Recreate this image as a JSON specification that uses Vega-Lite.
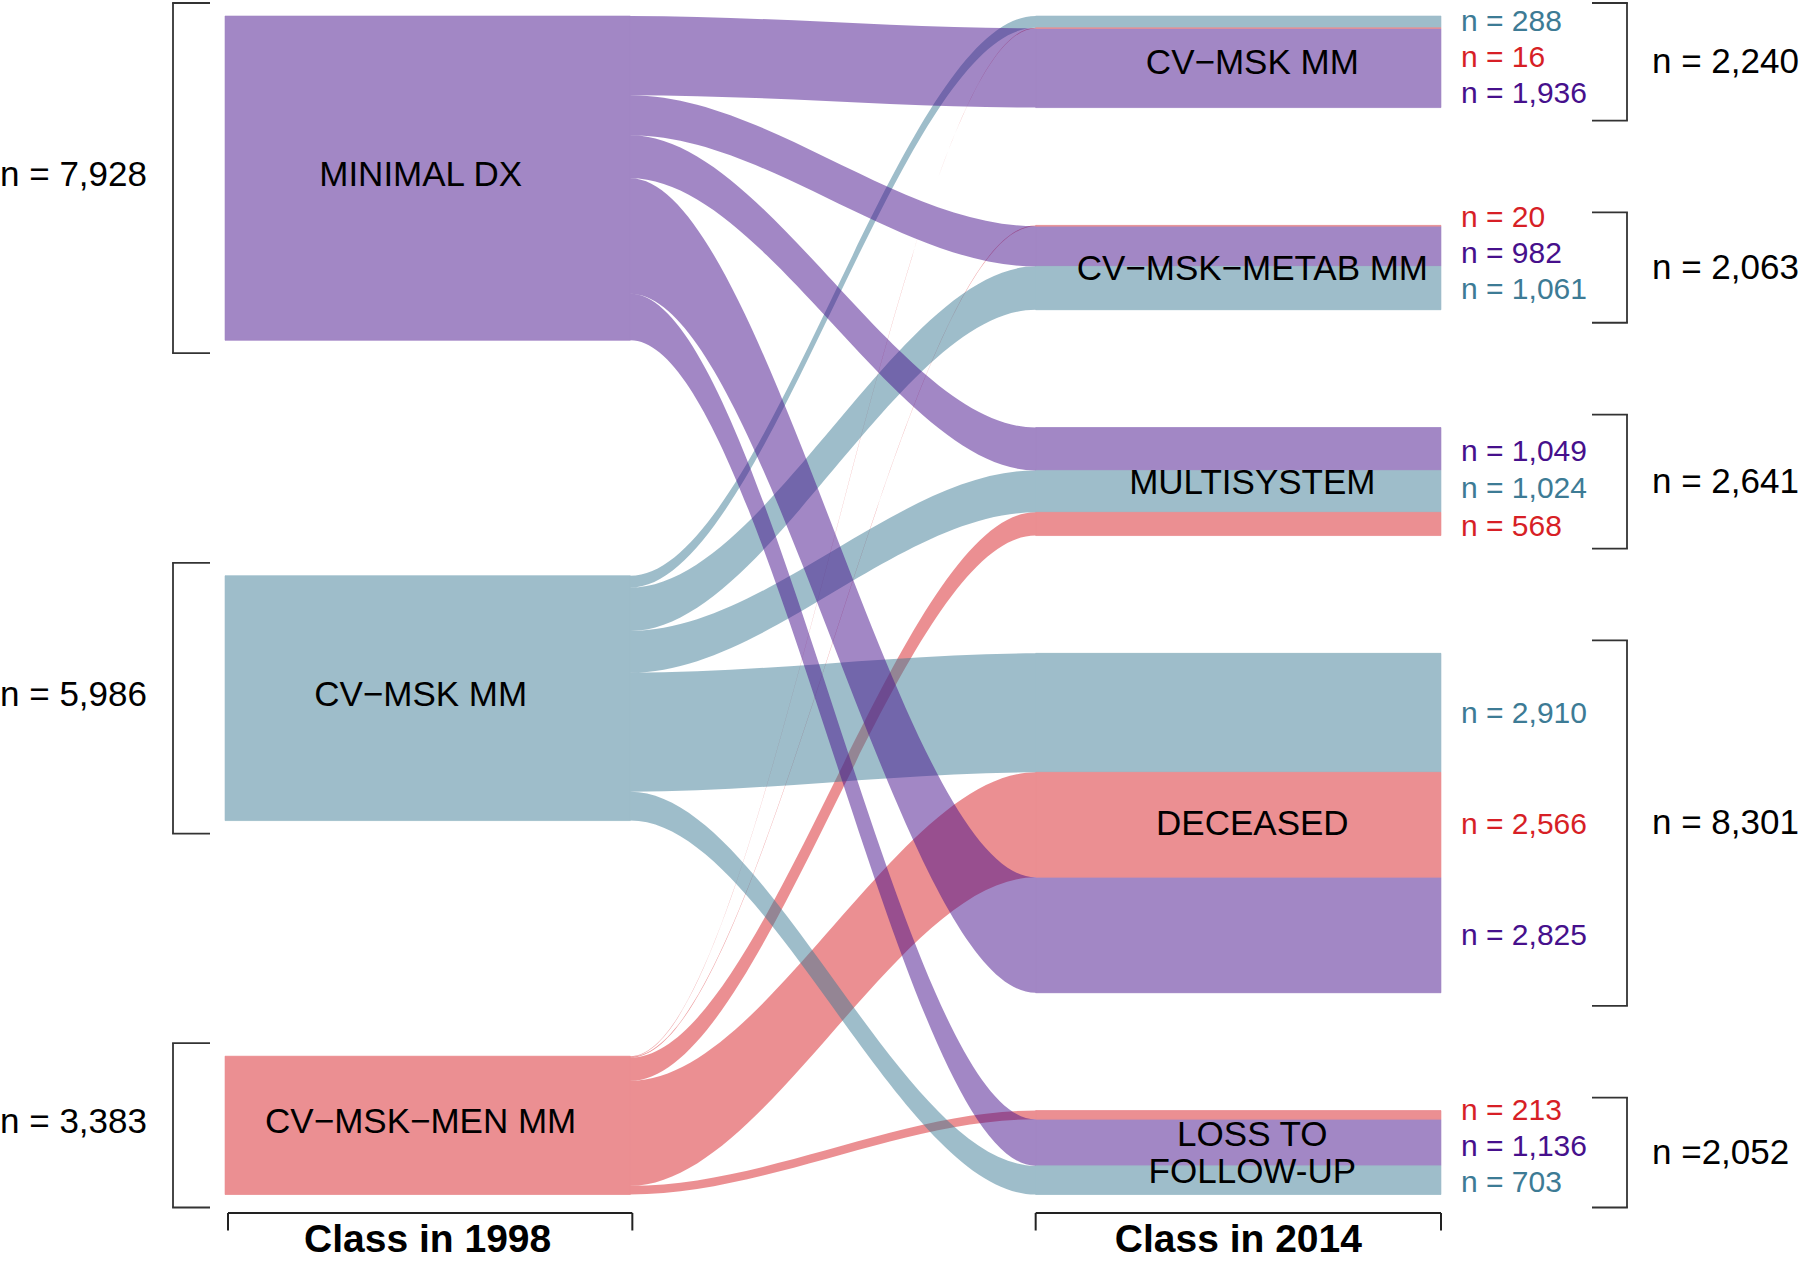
{
  "$schema": "https://vega.github.io/schema/vega-lite/v6.json",
  "width": 1216,
  "height": 1178.5,
  "autosize": {"type": "none"},
  "padding": {"left": 225, "right": 359, "top": 16, "bottom": 67.5},
  "background": "white",
  "config": {"view": {"stroke": null}, "font": "Liberation Sans", "text": {"font": "Liberation Sans"}},
  "datasets": {
    "flows": [
      {"class_1998": "MINIMAL DX", "class_2014": "CV−MSK MM", "n": 1936},
      {"class_1998": "MINIMAL DX", "class_2014": "CV−MSK−METAB MM", "n": 982},
      {"class_1998": "MINIMAL DX", "class_2014": "MULTISYSTEM", "n": 1049},
      {"class_1998": "MINIMAL DX", "class_2014": "DECEASED", "n": 2825},
      {"class_1998": "MINIMAL DX", "class_2014": "LOSS TO\nFOLLOW-UP", "n": 1136},
      {"class_1998": "CV−MSK MM", "class_2014": "CV−MSK MM", "n": 288},
      {"class_1998": "CV−MSK MM", "class_2014": "CV−MSK−METAB MM", "n": 1061},
      {"class_1998": "CV−MSK MM", "class_2014": "MULTISYSTEM", "n": 1024},
      {"class_1998": "CV−MSK MM", "class_2014": "DECEASED", "n": 2910},
      {"class_1998": "CV−MSK MM", "class_2014": "LOSS TO\nFOLLOW-UP", "n": 703},
      {"class_1998": "CV−MSK−MEN MM", "class_2014": "CV−MSK MM", "n": 16},
      {"class_1998": "CV−MSK−MEN MM", "class_2014": "CV−MSK−METAB MM", "n": 20},
      {"class_1998": "CV−MSK−MEN MM", "class_2014": "MULTISYSTEM", "n": 568},
      {"class_1998": "CV−MSK−MEN MM", "class_2014": "DECEASED", "n": 2566},
      {"class_1998": "CV−MSK−MEN MM", "class_2014": "LOSS TO\nFOLLOW-UP", "n": 213}
    ],
    "nodes1998": [
      {"node": "MINIMAL DX", "total": "n = 7,928"},
      {"node": "CV−MSK MM", "total": "n = 5,986"},
      {"node": "CV−MSK−MEN MM", "total": "n = 3,383"}
    ],
    "nodes2014": [
      {"node": "CV−MSK MM", "total": "n = 2,240"},
      {"node": "CV−MSK−METAB MM", "total": "n = 2,063"},
      {"node": "MULTISYSTEM", "total": "n = 2,641"},
      {"node": "DECEASED", "total": "n = 8,301"},
      {"node": "LOSS TO\nFOLLOW-UP", "total": "n =2,052"}
    ]
  },
  "data": {"name": "flows"},
  "transform": [
    {"calculate": "indexof(['MINIMAL DX','CV−MSK MM','CV−MSK−MEN MM'], datum.class_1998)", "as": "s"},
    {"calculate": "indexof(['CV−MSK MM','CV−MSK−METAB MM','MULTISYSTEM','DECEASED','LOSS TO\\nFOLLOW-UP'], datum.class_2014)", "as": "d"},
    {"calculate": "indexof([[1,2,0],[2,0,1],[0,1,2],[1,2,0],[2,0,1]][datum.d], datum.s)", "as": "r"},
    {"stack": "n", "groupby": [], "sort": [{"field": "s", "order": "ascending"}, {"field": "d", "order": "ascending"}], "as": ["lA", "lB"]},
    {"stack": "n", "groupby": [], "sort": [{"field": "d", "order": "ascending"}, {"field": "r", "order": "ascending"}], "as": ["rA", "rB"]},
    {"calculate": "datum.lA + datum.s * 5760", "as": "yLa"},
    {"calculate": "datum.lB + datum.s * 5760", "as": "yLb"},
    {"calculate": "datum.rA + datum.d * 2880", "as": "yRa"},
    {"calculate": "datum.rB + datum.d * 2880", "as": "yRb"}
  ],
  "layer": [
    {
      "transform": [
        {"calculate": "[0, 1, 2, 3]", "as": "station"},
        {"flatten": ["station"]},
        {"calculate": "datum.station < 2 ? datum.yLa : datum.yRa", "as": "top"},
        {"calculate": "datum.station < 2 ? datum.yLb : datum.yRb", "as": "bottom"}
      ],
      "encoding": {
        "x": {"field": "station", "type": "quantitative", "scale": {"domain": [0, 3], "nice": false, "zero": false}, "axis": null},
        "y": {"field": "top", "type": "quantitative", "stack": null, "scale": {"domain": [0, 28817], "reverse": true, "nice": false, "zero": false}, "axis": null},
        "y2": {"field": "bottom"},
        "detail": {"field": "class_2014", "type": "nominal"},
        "color": {"field": "class_1998", "type": "nominal", "legend": null,
          "scale": {"domain": ["MINIMAL DX", "CV−MSK MM", "CV−MSK−MEN MM"], "range": ["#46108C", "#3D7B95", "#D71F26"]}}
      },
      "layer": [
        {"transform": [{"filter": "datum.s == 2"}], "mark": {"type": "area", "interpolate": "monotone", "orient": "vertical", "fillOpacity": 0.5}},
        {"transform": [{"filter": "datum.s == 1"}], "mark": {"type": "area", "interpolate": "monotone", "orient": "vertical", "fillOpacity": 0.5}},
        {"transform": [{"filter": "datum.s == 0"}], "mark": {"type": "area", "interpolate": "monotone", "orient": "vertical", "fillOpacity": 0.5}}
      ]
    },
    {
      "mark": {"type": "rect", "strokeWidth": 0.6},
      "encoding": {
        "x": {"datum": 2, "type": "quantitative"},
        "x2": {"datum": 3},
        "y": {"field": "yRa", "type": "quantitative"},
        "y2": {"field": "yRb"},
        "fill": {"field": "class_1998", "type": "nominal", "legend": null,
          "scale": {"domain": ["MINIMAL DX", "CV−MSK MM", "CV−MSK−MEN MM"], "range": ["#A287C5", "#9EBDCA", "#EB8F92"]}},
        "stroke": {"field": "class_1998", "type": "nominal", "legend": null,
          "scale": {"domain": ["MINIMAL DX", "CV−MSK MM", "CV−MSK−MEN MM"], "range": ["#A287C5", "#9EBDCA", "#EB8F92"]}}
      }
    },
    {
      "transform": [
        {"aggregate": [{"op": "min", "field": "yLa", "as": "top"}, {"op": "max", "field": "yLb", "as": "bot"}], "groupby": ["class_1998"]},
        {"calculate": "(datum.top + datum.bot) / 2", "as": "mid"},
        {"lookup": "class_1998", "from": {"data": {"name": "nodes1998"}, "key": "node", "fields": ["total"]}}
      ],
      "layer": [
        {
          "mark": {"type": "rect", "strokeWidth": 0.6},
          "encoding": {
            "x": {"datum": 0, "type": "quantitative"},
            "x2": {"datum": 1},
            "y": {"field": "top", "type": "quantitative"},
            "y2": {"field": "bot"},
            "fill": {"field": "class_1998", "type": "nominal", "legend": null},
            "stroke": {"field": "class_1998", "type": "nominal", "legend": null}
          }
        },
        {
          "mark": {"type": "text", "fontSize": 35, "align": "center", "baseline": "middle", "dx": -7, "dy": -3, "color": "black"},
          "encoding": {
            "x": {"datum": 0.5, "type": "quantitative"},
            "y": {"field": "mid", "type": "quantitative"},
            "text": {"field": "class_1998"}
          }
        },
        {
          "mark": {"type": "text", "fontSize": 35, "align": "right", "baseline": "middle", "dx": -78, "dy": -3, "color": "black"},
          "encoding": {
            "x": {"datum": 0, "type": "quantitative"},
            "y": {"field": "mid", "type": "quantitative"},
            "text": {"field": "total"}
          }
        },
        {
          "mark": {"type": "rule", "xOffset": -52, "yOffset": -13, "y2Offset": 13, "strokeWidth": 1.8, "color": "#333333"},
          "encoding": {
            "x": {"datum": 0, "type": "quantitative"},
            "y": {"field": "top", "type": "quantitative"},
            "y2": {"field": "bot"}
          }
        },
        {
          "mark": {"type": "rule", "xOffset": -52.9, "x2Offset": -15, "yOffset": -13, "strokeWidth": 1.8, "color": "#333333"},
          "encoding": {
            "x": {"datum": 0, "type": "quantitative"},
            "x2": {"datum": 0},
            "y": {"field": "top", "type": "quantitative"}
          }
        },
        {
          "mark": {"type": "rule", "xOffset": -52.9, "x2Offset": -15, "yOffset": 13, "strokeWidth": 1.8, "color": "#333333"},
          "encoding": {
            "x": {"datum": 0, "type": "quantitative"},
            "x2": {"datum": 0},
            "y": {"field": "bot", "type": "quantitative"}
          }
        }
      ]
    },
    {
      "transform": [
        {"aggregate": [{"op": "min", "field": "yRa", "as": "top"}, {"op": "max", "field": "yRb", "as": "bot"}], "groupby": ["class_2014"]},
        {"calculate": "(datum.top + datum.bot) / 2", "as": "mid"},
        {"calculate": "datum.mid - (indexof(datum.class_2014, '\\n') >= 0 ? 458 : 0)", "as": "nameY"},
        {"lookup": "class_2014", "from": {"data": {"name": "nodes2014"}, "key": "node", "fields": ["total"]}}
      ],
      "layer": [
        {
          "mark": {"type": "text", "fontSize": 35, "align": "center", "baseline": "middle", "dx": 14, "dy": 1, "color": "black", "lineBreak": "\n", "lineHeight": 37.5},
          "encoding": {
            "x": {"datum": 2.5, "type": "quantitative"},
            "y": {"field": "nameY", "type": "quantitative"},
            "text": {"field": "class_2014"}
          }
        },
        {
          "mark": {"type": "text", "fontSize": 35, "align": "left", "baseline": "middle", "dx": 211, "color": "black"},
          "encoding": {
            "x": {"datum": 3, "type": "quantitative"},
            "y": {"field": "mid", "type": "quantitative"},
            "text": {"field": "total"}
          }
        },
        {
          "mark": {"type": "rule", "xOffset": 186, "yOffset": -13, "y2Offset": 13, "strokeWidth": 1.8, "color": "#333333"},
          "encoding": {
            "x": {"datum": 3, "type": "quantitative"},
            "y": {"field": "top", "type": "quantitative"},
            "y2": {"field": "bot"}
          }
        },
        {
          "mark": {"type": "rule", "xOffset": 151, "x2Offset": 186.9, "yOffset": -13, "strokeWidth": 1.8, "color": "#333333"},
          "encoding": {
            "x": {"datum": 3, "type": "quantitative"},
            "x2": {"datum": 3},
            "y": {"field": "top", "type": "quantitative"}
          }
        },
        {
          "mark": {"type": "rule", "xOffset": 151, "x2Offset": 186.9, "yOffset": 13, "strokeWidth": 1.8, "color": "#333333"},
          "encoding": {
            "x": {"datum": 3, "type": "quantitative"},
            "x2": {"datum": 3},
            "y": {"field": "bot", "type": "quantitative"}
          }
        }
      ]
    },
    {
      "transform": [
        {"calculate": "(datum.yRa + datum.yRb) / 2", "as": "c"},
        {"joinaggregate": [{"op": "mean", "field": "c", "as": "cMean"}, {"op": "min", "field": "c", "as": "cMin"}, {"op": "max", "field": "c", "as": "cMax"}], "groupby": ["class_2014"]},
        {"calculate": "max(881, (datum.cMax - datum.cMin) / 2)", "as": "sp"},
        {"calculate": "datum.cMean + (datum.r - 1) * datum.sp + max(0, 122 - (datum.cMean - datum.sp))", "as": "labY"},
        {"calculate": "'n = ' + format(datum.n, ',')", "as": "lab"}
      ],
      "mark": {"type": "text", "fontSize": 30, "align": "left", "baseline": "middle", "dx": 20, "dy": 1},
      "encoding": {
        "x": {"datum": 3, "type": "quantitative"},
        "y": {"field": "labY", "type": "quantitative"},
        "text": {"field": "lab"},
        "color": {"field": "class_1998", "type": "nominal", "legend": null}
      }
    },
    {
      "transform": [
        {"aggregate": [{"op": "max", "field": "yLb", "as": "base"}]}
      ],
      "layer": [
        {
          "mark": {"type": "rule", "xOffset": 3, "x2Offset": 2, "yOffset": 18.5, "strokeWidth": 2, "color": "#222222"},
          "encoding": {"x": {"datum": 0, "type": "quantitative"}, "x2": {"datum": 1}, "y": {"field": "base", "type": "quantitative"}}
        },
        {
          "mark": {"type": "rule", "xOffset": 3, "yOffset": 18.5, "y2Offset": 36, "strokeWidth": 2, "color": "#222222"},
          "encoding": {"x": {"datum": 0, "type": "quantitative"}, "y": {"field": "base", "type": "quantitative"}, "y2": {"field": "base"}}
        },
        {
          "mark": {"type": "rule", "xOffset": 2, "yOffset": 18.5, "y2Offset": 36, "strokeWidth": 2, "color": "#222222"},
          "encoding": {"x": {"datum": 1, "type": "quantitative"}, "y": {"field": "base", "type": "quantitative"}, "y2": {"field": "base"}}
        },
        {
          "mark": {"type": "rule", "yOffset": 18.5, "strokeWidth": 2, "color": "#222222"},
          "encoding": {"x": {"datum": 2, "type": "quantitative"}, "x2": {"datum": 3}, "y": {"field": "base", "type": "quantitative"}}
        },
        {
          "mark": {"type": "rule", "yOffset": 18.5, "y2Offset": 36, "strokeWidth": 2, "color": "#222222"},
          "encoding": {"x": {"datum": 2, "type": "quantitative"}, "y": {"field": "base", "type": "quantitative"}, "y2": {"field": "base"}}
        },
        {
          "mark": {"type": "rule", "yOffset": 18.5, "y2Offset": 36, "strokeWidth": 2, "color": "#222222"},
          "encoding": {"x": {"datum": 3, "type": "quantitative"}, "y": {"field": "base", "type": "quantitative"}, "y2": {"field": "base"}}
        },
        {
          "mark": {"type": "text", "fontSize": 39, "fontWeight": "bold", "align": "center", "baseline": "alphabetic", "dy": 57.5, "color": "black"},
          "encoding": {"x": {"datum": 0.5, "type": "quantitative"}, "y": {"field": "base", "type": "quantitative"}, "text": {"value": "Class in 1998"}}
        },
        {
          "mark": {"type": "text", "fontSize": 39, "fontWeight": "bold", "align": "center", "baseline": "alphabetic", "dy": 57.5, "color": "black"},
          "encoding": {"x": {"datum": 2.5, "type": "quantitative"}, "y": {"field": "base", "type": "quantitative"}, "text": {"value": "Class in 2014"}}
        }
      ]
    }
  ]
}
